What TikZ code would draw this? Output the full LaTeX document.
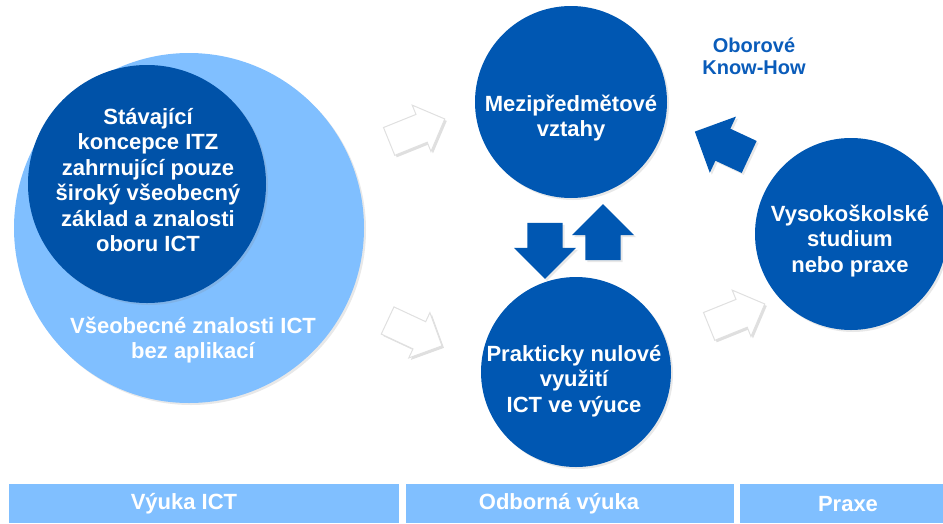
\documentclass[tikz,border=0pt]{standalone}
\usepackage{fontspec}
\setmainfont{Liberation Sans}
\usetikzlibrary{shapes.arrows,shadows}

\definecolor{lightblue}{RGB}{128,191,255}
\definecolor{darkblue}{RGB}{0,87,178}
\definecolor{innerblue}{RGB}{0,82,168}
\definecolor{titleblue}{RGB}{10,92,186}

\tikzset{
disc/.style={circle,fill=darkblue,minimum size=#1,inner sep=0pt,
  drop shadow={opacity=0.18,shadow xshift=2pt,shadow yshift=-2pt}},
disctext/.style={align=center,text=white,font=\bfseries\fontsize{22}{25.5}\selectfont},
whitearrow/.style={single arrow,fill=white,draw=black!12,line width=1pt,
  minimum height=60pt,minimum width=50pt,single arrow head extend=10pt,
  single arrow tip angle=90,inner xsep=0pt,inner ysep=14.5pt,
  drop shadow={opacity=0.25,shadow xshift=2pt,shadow yshift=-2pt}},
bluearrow/.style={single arrow,fill=darkblue,draw=none,
  minimum height=56pt,minimum width=62pt,single arrow head extend=13pt,
  single arrow tip angle=90,inner xsep=0pt,inner ysep=17pt,
  drop shadow={opacity=0.18,shadow xshift=2pt,shadow yshift=-2pt}},
barbox/.style={fill=lightblue,draw=none},
bartext/.style={text=white,font=\bfseries\fontsize{22}{26}\selectfont},
}

\begin{document}
\begin{tikzpicture}[x=1pt,y=-1pt]
\useasboundingbox (0,0) rectangle (943,523);
%% big circle;
\node[disc=350pt,fill=lightblue] (general) at (189,228) {};
\node[disctext] (generaltext) at (193,340) {Všeobecné znalosti ICT\\bez aplikací};
%% inner circle;
\node[disc=238pt,fill=innerblue] (concept) at (147,184) {};
\node[disctext] (concepttext) at (148,180) {Stávající\\koncepce ITZ\\zahrnující pouze\\široký všeobecný\\základ a znalosti\\oboru ICT};
%% middle circles;
\node[disc=192pt] (inter) at (571,102) {};
\node[disctext] (intertext) at (571,118) {Mezipředmětové\\vztahy};
\node[disc=190pt] (usage) at (576,372) {};
\node[disctext] (usagetext) at (574,381) {Prakticky nulové\\využití\\ICT ve výuce};
%% right circle;
\node[disc=192pt] (study) at (851,234) {};
\node[disctext] (studytext) at (850,241) {Vysokoškolské\\studium\\nebo praxe};
%% label;
\node[align=center,text=titleblue,font=\bfseries\fontsize{20}{22}\selectfont] (knowhow) at (754,56) {Oborové\\Know-How};
%% arrows;
\node[whitearrow,rotate=22] (arrA) at (410,133) {};
\node[whitearrow,rotate=-25] (arrB) at (408,330) {};
\node[whitearrow,rotate=22] (arrC) at (730,318) {};
\node[bluearrow,rotate=-90] (down) at (545,242) {};
\node[bluearrow,rotate=90] (up) at (603,241) {};
\node[bluearrow,rotate=155,minimum height=60pt] (back) at (730,148) {};
%% bars;
\node[barbox,minimum width=390pt,minimum height=39pt] (barA) at (204,503.5) {};
\node[barbox,minimum width=328pt,minimum height=39pt] (barB) at (570,503.5) {};
\node[barbox,minimum width=203pt,minimum height=39pt] (barC) at (841.5,503.5) {};
\node[bartext] at (184,504) {Výuka ICT};
\node[bartext] at (559,504) {Odborná výuka};
\node[bartext] at (848,504) {Praxe};
\end{tikzpicture}
\end{document}
